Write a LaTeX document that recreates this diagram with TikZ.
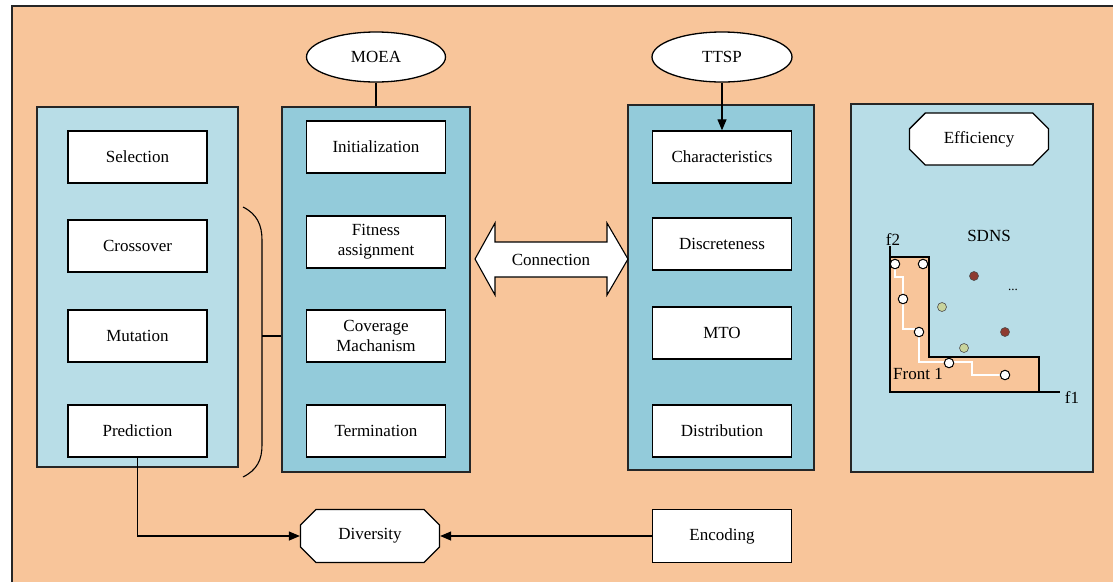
\documentclass[tikz,border=0pt]{standalone}
\usepackage{fontspec}
\setmainfont{Liberation Serif}
\usetikzlibrary{shapes.geometric,shapes.misc,arrows.meta}
\definecolor{bgor}{HTML}{F8C59A}
\definecolor{lblue}{HTML}{B8DDE7}
\definecolor{dblue}{HTML}{93CBDA}
\definecolor{dred}{HTML}{8E3B30}
\definecolor{olivedot}{HTML}{C8D49C}
\newcommand{\fsz}{\fontsize{17}{20}\selectfont}
\begin{document}
\begin{tikzpicture}[x=1pt,y=-1pt,
  panel/.style={draw=black!85, line width=1.2pt, inner sep=0pt},
  box/.style={draw=black, fill=white, line width=1.3pt, minimum width=139pt, minimum height=52pt, align=center, inner sep=1pt, font=\fsz},
  oval/.style={ellipse, draw=black, fill=white, line width=1.3pt, minimum width=139pt, minimum height=50pt, inner sep=0pt, font=\fsz},
  chbox/.style={chamfered rectangle, chamfered rectangle xsep=8pt, chamfered rectangle ysep=8pt, draw=black, fill=white, line width=1.3pt, minimum width=139pt, minimum height=53pt, inner sep=0pt, font=\fsz},
  conn/.style={line width=1.2pt, draw=black},
  arr/.style={conn, -{Triangle[length=11pt,width=9pt]}},
  lbl/.style={font=\fsz, inner sep=0pt},
  wpt/.style={circle, draw=black, fill=white, line width=1pt, minimum size=9.5pt, inner sep=0pt},
  rpt/.style={circle, draw=black!70, fill=dred, line width=0.6pt, minimum size=9pt, inner sep=0pt},
  gpt/.style={circle, draw=black!70, fill=olivedot, line width=0.6pt, minimum size=9pt, inner sep=0pt}
]
\useasboundingbox (0,0) rectangle (1113,582);
% background
\fill[bgor] (12,6) rectangle (1113,582);
\draw[line width=1.3pt, black!85] (12,582) -- (12,6) -- (1113,6);

% panels
\node[panel, fill=lblue, minimum width=201pt, minimum height=360pt] (lp) at (137.5,287) {};
\node[panel, fill=dblue, minimum width=188pt, minimum height=365pt] (mp) at (376,289.5) {};
\node[panel, fill=dblue, minimum width=186pt, minimum height=365pt] (tp) at (721,287.5) {};
\node[panel, fill=lblue, minimum width=242pt, minimum height=368pt] (rp) at (972,288) {};

% left column
\node[box] (sel) at (137.5,157) {Selection};
\node[box] (cro) at (137.5,246) {Crossover};
\node[box] (mut) at (137.5,336) {Mutation};
\node[box] (pred) at (137.5,431) {Prediction};

% MOEA column
\node[oval] (moea) at (376,57) {MOEA};
\node[box] (init) at (376,147) {Initialization};
\node[box] (fit) at (376,242) {Fitness\\assignment};
\node[box] (cov) at (376,336) {Coverage\\Machanism};
\node[box] (term) at (376,431) {Termination};

% TTSP column
\node[oval, minimum width=140pt] (ttsp) at (722,57) {TTSP};
\node[box] (char) at (722,157) {Characteristics};
\node[box] (disc) at (722,244) {Discreteness};
\node[box] (mto) at (722,333) {MTO};
\node[box] (dist) at (722,431) {Distribution};

% right panel
\node[chbox, minimum height=52pt] (eff) at (979,139) {Efficiency};
\node[lbl] (sdns) at (989,236) {SDNS};

% bottom
\node[chbox] (div) at (370,536) {Diversity};
\node[box, minimum height=53pt] (enc) at (722,536) {Encoding};

% connectors
\draw[conn] (moea.south) -- (moea.south |- mp.north);
\draw[arr] (ttsp.south) -- (char.north);
\draw[arr] (pred.south) |- (div.west);
\draw[arr] (enc.west) -- (div.east);

% bracket
\coordinate (brk) at (262,336);
\draw[conn, line width=1.1pt] (243,207) .. controls (257,214) and (262,225) .. (262,240) -- (262,445) .. controls (262,460) and (257,470) .. (243,477);
\draw[conn, line width=1.1pt] (brk) -- (mp.west |- cov);

% connection double arrow
\draw[line width=1.1pt, fill=white] (475,259) -- (495,223) -- (495,242) -- (607,242) -- (607,223) -- (628,259) -- (607,295) -- (607,277) -- (495,277) -- (495,295) -- cycle;
\node[lbl] (cn) at (551,260) {Connection};

% chart
\draw[line width=1.3pt, fill=bgor] (890,257) -- (929,257) -- (929,357) -- (1039,357) -- (1039,392) -- (890,392) -- cycle;
\draw[line width=1.3pt] (890,246) -- (890,392) -- (1060,392);
\node[lbl] (f2) at (893,240) {f2};
\node[lbl] (f1) at (1072,398) {f1};
\draw[white, line width=1.2pt] (895,264) -- (895,277) -- (903,277) -- (903,329) -- (919,329) -- (919,362) -- (972,362) -- (972,375) -- (1005,375);
\node[wpt] (p1) at (895,264) {};
\node[wpt] (p2) at (923,264) {};
\node[wpt] (p3) at (903,299) {};
\node[wpt] (p4) at (919,332) {};
\node[wpt] (p5) at (949,363) {};
\node[wpt] (p6) at (1005,375) {};
\node[rpt] (r1) at (974,276) {};
\node[rpt] (r2) at (1005,332) {};
\node[gpt] (g1) at (942,307) {};
\node[gpt] (g2) at (964,348) {};
\node[lbl, font=\fontsize{13}{13}\selectfont] (dots) at (1013,290) {...};
\node[lbl, anchor=west] (front) at (893,374) {Front 1};
\end{tikzpicture}
\end{document}
